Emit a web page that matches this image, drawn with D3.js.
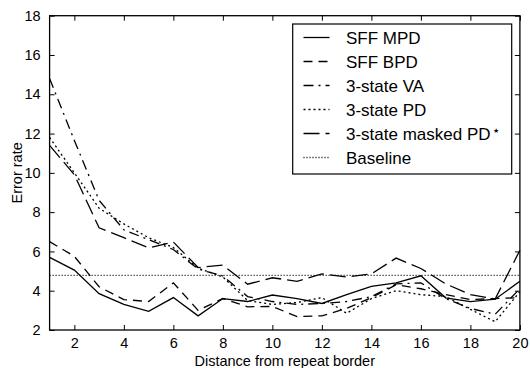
<!DOCTYPE html>
<html>
<head>
<meta charset="utf-8">
<script src="https://cdn.jsdelivr.net/npm/d3@7"></script>
<style>
  body { margin: 0; background: #fff; }
  text { font-family: "Liberation Sans", Arial, sans-serif; fill: #000; }
</style>
</head>
<body>
<div id="chart"></div>
<script>
// distance from repeat border
const distance = d3.range(1, 21);

// error rates
const sffMpd = [5.7, 5.05, 3.85, 3.3, 2.95, 3.65, 2.72, 3.6, 3.45, 3.78, 3.6, 3.35, 3.8, 4.22, 4.4, 4.76, 3.64, 3.44, 3.57, 4.48];
const sffBpd = [6.5, 5.75, 4.2, 3.55, 3.45, 4.4, 3.0, 3.6, 3.18, 3.2, 2.68, 2.72, 3.1, 3.65, 4.3, 4.1, 3.8, 3.55, 3.6, 3.65];
const va3 = [14.8, 11.65, 8.6, 7.1, 6.6, 6.1, 5.1, 4.75, 3.7, 3.45, 3.3, 3.35, 3.45, 3.7, 4.35, 4.4, 3.6, 3.1, 2.8, 4.1];
const pd3 = [11.8, 10.0, 8.2, 7.4, 6.7, 6.2, 5.15, 4.7, 3.5, 3.3, 3.4, 3.65, 2.85, 3.6, 4.0, 3.8, 3.7, 3.05, 2.42, 3.95];
const maskedPd3 = [11.4, 9.9, 7.2, 6.7, 6.18, 6.48, 5.18, 5.3, 4.33, 4.66, 4.48, 4.86, 4.7, 4.86, 5.66, 5.13, 4.35, 3.8, 3.58, 6.06];
const baseline = 4.78;

const xTicks = [2, 4, 6, 8, 10, 12, 14, 16, 18, 20];
const yTicks = [2, 4, 6, 8, 10, 12, 14, 16, 18];

const series = [
	{ name: "SFF MPD", values: sffMpd, dash: null },
	{ name: "SFF BPD", values: sffBpd, dash: "9,6" },
	{ name: "3-state VA", values: va3, dash: "10,5,2,5" },
	{ name: "3-state PD", values: pd3, dash: "2,3" },
	{ name: "3-state masked PD", values: maskedPd3, dash: "16,6", star: true }
];

const W = 530, H = 368;
const margin = { top: 15.7, right: 10, bottom: 38, left: 49.6 };
const width = 519.9 - margin.left;
const height = 330 - margin.top;

const x = d3.scaleLinear().domain([1, 20]).range([0, width]);
const y = d3.scaleLinear().domain([2, 18]).range([height, 0]);

const svg = d3.select("#chart").append("svg")
	.attr("width", W)
	.attr("height", H);

const g = svg.append("g")
	.attr("transform", "translate(" + [margin.left, margin.top] + ")");

// lines
const line = d3.line()
	.x((d, i) => x(distance[i]))
	.y(d => y(d));

series.forEach(s => {
	g.append("path")
		.datum(s.values)
		.attr("fill", "none")
		.attr("stroke", "#000")
		.attr("stroke-width", 1.3)
		.attr("stroke-dasharray", s.dash)
		.attr("d", line);
});

// baseline
g.append("line")
	.attr("x1", x(1)).attr("x2", x(20))
	.attr("y1", y(baseline)).attr("y2", y(baseline))
	.attr("stroke", "#000")
	.attr("stroke-width", 1.2)
	.attr("stroke-dasharray", "1,2");

// axes with inward ticks, mirrored on top/right
const tickLen = 5;
const axisBottom = d3.axisBottom(x).tickValues(xTicks).tickSizeInner(-tickLen).tickSizeOuter(0).tickPadding(8);
const axisTop = d3.axisTop(x).tickValues(xTicks).tickSizeInner(-tickLen).tickSizeOuter(0).tickFormat("");
const axisLeft = d3.axisLeft(y).tickValues(yTicks).tickSizeInner(-tickLen).tickSizeOuter(0).tickPadding(9);
const axisRight = d3.axisRight(y).tickValues(yTicks).tickSizeInner(-tickLen).tickSizeOuter(0).tickFormat("");

function styleAxis(sel) {
	sel.select(".domain").remove();
	sel.selectAll("line").attr("stroke", "#000").attr("stroke-width", 1);
	sel.selectAll("text")
		.style("font-family", '"Liberation Sans", Arial, sans-serif')
		.style("font-size", "14.5px")
		.attr("fill", "#000");
}

g.append("g").attr("transform", "translate(0," + height + ")").call(axisBottom).call(styleAxis);
g.append("g").call(axisTop).call(styleAxis);
g.append("g").call(axisLeft).call(styleAxis);
g.append("g").attr("transform", "translate(" + width + ",0)").call(axisRight).call(styleAxis);

// frame
g.append("rect")
	.attr("width", width)
	.attr("height", height)
	.attr("fill", "none")
	.attr("stroke", "#000")
	.attr("stroke-width", 1.3);

// axis labels
svg.append("text")
	.attr("x", margin.left + width / 2)
	.attr("y", 365.5)
	.attr("text-anchor", "middle")
	.style("font-size", "14.5px")
	.text("Distance from repeat border");

svg.append("text")
	.attr("transform", "translate(21.5," + (margin.top + height / 2) + ") rotate(-90)")
	.attr("text-anchor", "middle")
	.style("font-size", "14.5px")
	.text("Error rate");

// legend
const legendItems = series.concat([{ name: "Baseline", dash: "1,2" }]);
const legend = svg.append("g");

legend.append("rect")
	.attr("x", 292.7)
	.attr("y", 24)
	.attr("width", 219)
	.attr("height", 150)
	.attr("fill", "#fff")
	.attr("stroke", "#000")
	.attr("stroke-width", 1.2);

legendItems.forEach((s, i) => {
	const ly = 37.5 + i * 24;
	legend.append("line")
		.attr("x1", 303.5).attr("x2", 329.5)
		.attr("y1", ly).attr("y2", ly)
		.attr("stroke", "#000")
		.attr("stroke-width", 1.3)
		.attr("stroke-dasharray", s.dash);
	const t = legend.append("text")
		.attr("x", 346)
		.attr("y", ly + 6)
		.style("font-size", "17px")
		.text(s.name);
	if (s.star) {
		t.append("tspan")
			.attr("dx", 2)
			.attr("dy", -7)
			.style("font-size", "7px")
			.text("\u2605");
	}
});
</script>
</body>
</html>
